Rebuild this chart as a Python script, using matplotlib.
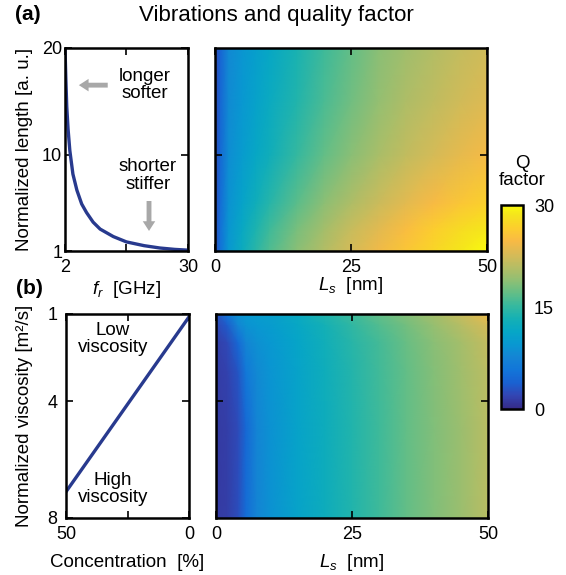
import numpy as np
import matplotlib
matplotlib.use("Agg")
import matplotlib.pyplot as plt
from matplotlib.colors import LinearSegmentedColormap

plt.rcParams['font.family'] = ['Liberation Sans', 'DejaVu Sans']
plt.rcParams['mathtext.fontset'] = 'custom'
plt.rcParams['mathtext.rm'] = 'Liberation Sans'
plt.rcParams['mathtext.it'] = 'Liberation Sans:italic'

# --- data ---
# (a) left: normalized length vs resonance frequency
freq_ghz = [2.0, 2.2, 2.4, 2.7, 3.1, 3.8, 4.7, 5.8, 6.9, 8.4, 10.0, 13.0, 16.0, 20.0, 23.6, 27.0, 30.0]
norm_len = [20.0, 17.0, 14.5, 12.4, 10.4, 8.2, 6.7, 5.4, 4.6, 3.7, 3.05, 2.35, 1.85, 1.5, 1.28, 1.15, 1.08]

# (b) left: normalized viscosity vs concentration
conc_pct = [50, 0]
norm_visc = [7.1, 1.1]

# (a) right: Q factor map, rows = normalized length, cols = Ls
ls_a = [0, 1, 2.5, 5, 7.5, 10, 15, 20, 25, 30, 35, 40, 45, 50]
len_a = [1, 3, 5.5, 10, 15, 20]
q_a = [
    [2.5, 5.5, 9.5, 12.2, 14.5, 16.2, 18.7, 20.7, 22.5, 24.2, 25.8, 27.3, 28.7, 30.0],
    [2.5, 5.3, 9.3, 11.8, 13.8, 15.5, 18.0, 20.0, 21.8, 23.4, 25.0, 26.5, 27.8, 28.8],
    [2.4, 5.0, 9.0, 11.0, 12.7, 14.2, 16.7, 18.8, 20.5, 22.0, 23.4, 24.7, 25.8, 26.8],
    [2.3, 4.6, 8.5, 10.0, 11.5, 12.7, 15.0, 17.0, 18.7, 20.2, 21.5, 22.6, 23.6, 24.5],
    [2.2, 4.4, 8.2, 9.6, 10.8, 12.0, 14.0, 16.0, 17.6, 19.2, 20.4, 21.4, 22.3, 23.2],
    [2.2, 4.3, 8.0, 9.3, 10.5, 11.5, 13.5, 15.5, 17.0, 18.7, 19.8, 20.7, 21.6, 22.3],
]

# (b) right: Q factor map, rows = normalized viscosity, cols = Ls
ls_b = [0, 2, 4, 5.5, 7.5, 10, 15, 20, 25, 30, 35, 40, 45, 50]
visc_b = [1, 1.4, 2, 3, 5, 8]
q_b = [
    [2.5, 6.0, 9.0, 9.6, 10.0, 10.5, 12.0, 14.0, 15.5, 17.0, 18.5, 20.0, 21.7, 24.0],
    [2.0, 3.5, 7.5, 9.0, 9.5, 10.0, 11.5, 13.2, 14.8, 16.3, 17.8, 19.3, 20.8, 22.5],
    [1.5, 2.2, 4.5, 7.5, 8.7, 9.5, 11.2, 12.8, 14.3, 15.8, 17.3, 18.7, 20.0, 21.6],
    [1.3, 1.7, 3.0, 6.0, 8.0, 9.2, 11.0, 12.6, 14.1, 15.6, 17.1, 18.4, 19.7, 21.2],
    [1.2, 1.5, 2.3, 4.5, 7.5, 9.0, 11.0, 12.5, 14.0, 15.5, 17.0, 18.3, 19.5, 21.0],
    [1.2, 1.5, 2.5, 5.0, 7.5, 9.0, 11.0, 12.5, 14.0, 15.5, 17.0, 18.3, 19.5, 21.0],
]

# parula-like colormap
parula_pts = [
    [0.2081, 0.1663, 0.5292], [0.2000, 0.2700, 0.7000], [0.1000, 0.3800, 0.8200],
    [0.0700, 0.4600, 0.8500], [0.0793, 0.5200, 0.8312], [0.0343, 0.5966, 0.8199],
    [0.0228, 0.6535, 0.7768], [0.0843, 0.6928, 0.7062], [0.2178, 0.7250, 0.6193],
    [0.3953, 0.7459, 0.5244], [0.5709, 0.7485, 0.4494], [0.7184, 0.7411, 0.3905],
    [0.8507, 0.7299, 0.3360], [0.9739, 0.7314, 0.2666], [0.9880, 0.8066, 0.1794],
    [0.9589, 0.8949, 0.1132], [0.9763, 0.9831, 0.0538],
]
parula_pos = [0, 4, 8, 12, 16, 20, 24, 28, 32, 36, 40, 44, 48, 52, 56, 60, 63]
parula = LinearSegmentedColormap.from_list(
    'parula', list(zip([p / 63 for p in parula_pos], parula_pts)))

W, H = 566, 575
fig = plt.figure(figsize=(W / 100, H / 100), dpi=100)


def box(l, t, r, b):
    return fig.add_axes([l / W, 1 - b / H, (r - l) / W, (b - t) / H])


ax1 = box(65, 48, 188, 251)
ax2 = box(215, 48, 487, 251)
ax3 = box(66, 314, 189, 518)
ax4 = box(216, 314, 488, 518)
cax = box(501, 205, 523, 409)

FS = 13
line_c = '#283a8e'

for ax in (ax1, ax2, ax3, ax4):
    for s in ax.spines.values():
        s.set_linewidth(1.8)
    ax.tick_params(direction='in', top=True, right=True, length=5, width=1.2,
                   labelsize=FS)
    ax.tick_params(axis='x', pad=6)

# (a) left
ax1.plot(freq_ghz, norm_len, color=line_c, lw=2.4)
ax1.set_xlim(2, 30)
ax1.set_ylim(1, 20)
ax1.set_xticks([2, 16, 30], ['2', '', '30'])
ax1.set_yticks([1, 10, 20], ['1', '10', '20'])
ax1.tick_params(axis='y', pad=2)
ax1.set_xlabel('$f_r$  [GHz]', fontsize=13.5)
ax1.xaxis.set_label_coords(0.5, -0.19)
ax1.xaxis.label.set_va('center')
ax1.set_ylabel('Normalized length [a. u.]', fontsize=13.5)
ax1.yaxis.set_label_coords(-0.333, 0.5)
ax1.yaxis.label.set_va('center')
ax1.text(0.65, 0.817, 'longer\nsofter', transform=ax1.transAxes, ha='center',
         va='center', fontsize=13.5, linespacing=1.05)
ax1.text(0.675, 0.371, 'shorter\nstiffer', transform=ax1.transAxes, ha='center',
         va='center', fontsize=13.5, linespacing=1.05)
arrow = dict(arrowstyle='simple,head_width=0.9,head_length=0.7,tail_width=0.35',
             color='#a8a8a8', lw=0)
ax1.annotate('', xy=(0.09, 0.817), xytext=(0.37, 0.817), xycoords='axes fraction',
             arrowprops=arrow)
ax1.annotate('', xy=(0.683, 0.085), xytext=(0.683, 0.26), xycoords='axes fraction',
             arrowprops=arrow)

# (a) right
ax2.pcolormesh(ls_a, len_a, np.array(q_a), cmap=parula, vmin=0, vmax=30,
               shading='gouraud', rasterized=True)
ax2.set_xlim(0, 50)
ax2.set_ylim(1, 20)
ax2.set_xticks([0, 25, 50])
ax2.set_yticks([10], [''])
ax2.set_xlabel('$L_s$  [nm]', fontsize=13.5)
ax2.xaxis.set_label_coords(0.5, -0.17)
ax2.xaxis.label.set_va('center')

# (b) left
ax3.plot(conc_pct, norm_visc, color=line_c, lw=2.4)
ax3.set_xlim(50, 0)
ax3.set_ylim(8, 1)
ax3.set_xticks([50, 25, 0], ['50', '', '0'])
ax3.set_yticks([1, 4, 8], ['1', '4', '8'])
ax3.tick_params(axis='y', pad=6)
ax3.set_xlabel('Concentration  [%]', fontsize=13.5)
ax3.xaxis.set_label_coords(0.5, -0.22)
ax3.xaxis.label.set_va('center')
ax3.set_ylabel('Normalized viscosity [m²/s]', fontsize=13.5)
ax3.yaxis.set_label_coords(-0.34, 0.5)
ax3.yaxis.label.set_va('center')
ax3.text(0.382, 0.877, 'Low\nviscosity', transform=ax3.transAxes, ha='center',
         va='center', fontsize=13.5, linespacing=1.05)
ax3.text(0.382, 0.142, 'High\nviscosity', transform=ax3.transAxes, ha='center',
         va='center', fontsize=13.5, linespacing=1.05)

# (b) right
mesh = ax4.pcolormesh(ls_b, visc_b, np.array(q_b), cmap=parula, vmin=0, vmax=30,
                      shading='gouraud', rasterized=True)
ax4.set_xlim(0, 50)
ax4.set_ylim(8, 1)
ax4.set_xticks([0, 25, 50])
ax4.set_yticks([4], [''])
ax4.set_xlabel('$L_s$  [nm]', fontsize=13.5)
ax4.xaxis.set_label_coords(0.5, -0.22)
ax4.xaxis.label.set_va('center')

# colorbar
cb = fig.colorbar(mesh, cax=cax, ticks=[0, 15, 30])
cb.outline.set_linewidth(1.8)
cax.tick_params(length=0, labelsize=FS, pad=8)
fig.text(522 / W, 1 - 172 / H, 'Q\nfactor', ha='center', va='center',
         fontsize=13.5, linespacing=1.05)

fig.text(276 / W, 1 - 15 / H, 'Vibrations and quality factor', ha='center',
         va='center', fontsize=16)
fig.text(15 / W, 1 - 14 / H, '(a)', ha='left', va='center', fontsize=15,
         fontweight='bold')
fig.text(16 / W, 1 - 288 / H, '(b)', ha='left', va='center', fontsize=15,
         fontweight='bold')

fig.savefig('out.png', dpi=100)
